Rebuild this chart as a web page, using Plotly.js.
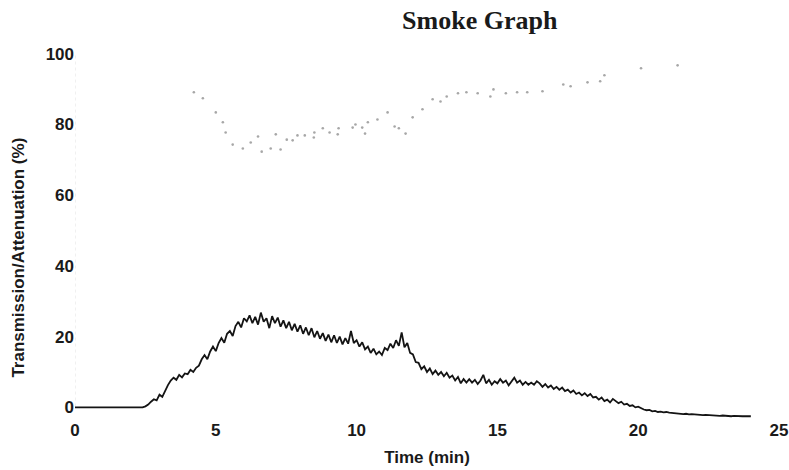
<!DOCTYPE html>
<html>
<head>
<meta charset="utf-8">
<script src="https://cdn.plot.ly/plotly-3.0.1.min.js"></script>
<style>html,body{margin:0;padding:0;background:#fff;}#chart{width:789px;height:470px;}</style>
</head>
<body>
<div id="chart"></div>
<script>
// Transmission (%) – sparse dotted readings
const transTime = [4.22,4.54,5.0,5.25,5.35,5.6,5.96,6.24,6.5,6.63,6.95,7.13,7.3,7.52,7.73,7.9,8.16,8.48,8.5,8.8,9.04,9.33,9.36,9.86,9.96,10.2,10.3,10.4,
  10.74,11.1,11.35,11.5,11.74,11.99,12.34,12.7,12.98,13.2,13.6,13.9,14.3,14.75,14.86,15.3,15.7,16.06,16.6,17.34,17.6,18.2,18.65,18.8,20.1,21.4];
const transValue = [89.1,87.4,83.4,80.6,77.7,74.3,73.2,74.9,76.6,72.3,73.2,77.2,72.9,75.7,75.5,76.9,76.9,76.3,77.7,78.9,77.7,77.2,78.9,79.1,80.0,79.1,77.4,80.6,
  81.4,83.4,79.4,78.9,77.4,82.0,84.3,87.1,86.5,87.9,88.8,89.1,88.8,87.9,89.9,88.8,89.1,89.1,89.4,91.3,90.8,91.9,92.2,93.9,95.9,96.7];

// Attenuation (%) – sampled every 0.1 min from 0 min
const attenStart = 0;
const attenStep = 0.1;
const attenValue = [
  0,0,0,0,0,0,0,0,0,0, 0,0,0,0,0,0,0,0,0,0, 0,0,0,0,0,
  0.3,0.8,1.6,2.3,2.0,3.6,3.0,4.8,6.3,7.6,
  8.4,7.8,9.2,8.5,9.6,9.4,10.6,10.0,11.2,11.8,
  13.6,14.8,13.6,15.8,17.2,15.9,18.2,19.6,18.3,20.8,
  21.6,20.2,23.0,24.2,22.6,25.2,24.3,26.0,23.8,25.6,
  23.4,26.8,24.2,25.2,22.4,25.8,23.8,25.4,22.8,24.6,
  22.4,24.2,21.8,23.6,21.4,23.2,20.8,22.6,20.4,22.4,
  19.8,21.6,19.4,21.0,18.8,20.6,18.4,20.4,18.2,20.0,
  17.8,19.6,18.0,21.6,18.2,19.0,17.2,18.4,16.4,17.2,
  15.4,16.6,15.0,15.8,14.8,16.8,16.2,18.0,16.8,19.0,
  17.4,21.2,17.0,18.2,15.4,15.0,12.8,12.6,10.8,11.6,
  10.0,11.0,9.4,10.4,9.2,10.0,8.8,9.8,8.4,9.0,
  7.6,8.6,6.8,8.0,7.0,8.0,7.0,7.8,6.6,7.6,
  9.2,6.8,7.8,6.4,7.4,6.8,8.0,7.0,7.6,6.2,
  7.4,8.4,7.0,7.6,6.4,7.2,6.4,7.0,6.4,7.4,
  6.8,5.8,6.6,5.6,6.2,5.2,5.8,5.0,5.6,4.6,
  5.0,4.2,4.8,3.8,4.2,3.4,4.0,3.2,3.8,2.8,
  3.0,2.2,2.8,1.8,2.2,1.4,2.4,1.8,1.2,1.6,
  0.8,1.0,0.4,0.6,0.0,0.2,
  -0.3,-0.6,-0.8,-0.7,-1.1,-1.0,-1.3,-1.2,-1.4,-1.3,
  -1.5,-1.6,-1.5,-1.8,-1.7,-1.9,-1.8,-2.0,-1.9,-2.0,
  -2.1,-2.0,-2.2,-2.1,-2.2,-2.3,-2.2,-2.3,-2.4,-2.3,
  -2.4,-2.4,-2.5,-2.4,-2.5,-2.5,-2.5,-2.5,-2.5,-2.5
];

const xTicks = [0,5,10,15,20,25];
const yTicks = [0,20,40,60,80,100];

const tickFont = {family: '"Liberation Sans", Arial, sans-serif', size: 17, color: '#1a1a1a', weight: 'bold'};

const traces = [
  {
    type: 'scatter', mode: 'markers', x: transTime, y: transValue,
    marker: {size: 2.6, color: 'rgba(60,60,60,0.45)'},
    showlegend: false, hoverinfo: 'skip'
  },
  {
    type: 'scatter', mode: 'lines', x0: attenStart, dx: attenStep, y: attenValue,
    line: {color: '#141414', width: 1.8},
    showlegend: false, hoverinfo: 'skip'
  }
];

const layout = {
  width: 789, height: 470,
  margin: {l: 75, r: 10, t: 36, b: 52},
  paper_bgcolor: '#fff', plot_bgcolor: '#fff',
  title: {
    text: 'Smoke Graph',
    font: {family: '"Liberation Serif", "Times New Roman", serif', size: 26, color: '#1a1a1a', weight: 'bold'},
    xref: 'container', yref: 'container', x: 0.608, y: 0.957, xanchor: 'center', yanchor: 'middle'
  },
  xaxis: {
    range: [0, 25], tickvals: xTicks, ticktext: xTicks.map(String),
    showgrid: false, zeroline: false, showline: false, ticks: '',
    tickfont: tickFont,
    title: {text: 'Time (min)', font: tickFont, standoff: 12}
  },
  yaxis: {
    range: [-3, 105], tickvals: yTicks, ticktext: yTicks.map(String),
    showgrid: false, zeroline: false, showline: false, ticks: '',
    tickfont: tickFont
  },
  annotations: [{
    text: 'Transmission/Attenuation (%)', textangle: -90,
    xref: 'paper', yref: 'paper', x: -0.08, y: 0.419,
    xanchor: 'center', yanchor: 'middle', showarrow: false,
    font: tickFont
  }],
  shapes: [{
    type: 'line', xref: 'x', yref: 'paper', x0: 0, x1: 0, y0: 0.03, y1: 0.95,
    line: {color: 'rgba(0,0,0,0.12)', width: 1, dash: 'dot'}, layer: 'below'
  }]
};

Plotly.newPlot('chart', traces, layout, {staticPlot: true, displayModeBar: false});
</script>
</body>
</html>
